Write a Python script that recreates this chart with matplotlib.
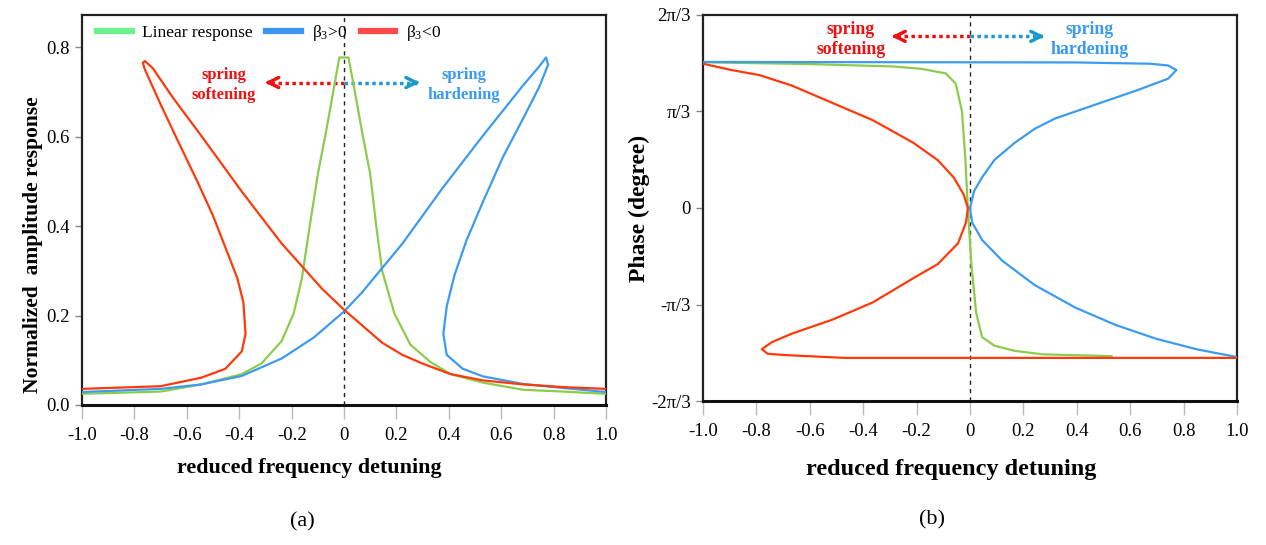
import matplotlib
matplotlib.use("Agg")
import matplotlib.pyplot as plt
from matplotlib.lines import Line2D

# ---------------- data: panel (a) amplitude ----------------
lin_amp_x = [-1.0, -0.7, -0.545, -0.39, -0.315, -0.238, -0.192, -0.161, -0.131, -0.10, -0.069, -0.038, -0.018,
             0.017, 0.038, 0.069, 0.10, 0.123, 0.146, 0.192, 0.253, 0.33, 0.407, 0.53, 0.684, 0.837, 1.0]
lin_amp_y = [0.025, 0.030, 0.046, 0.069, 0.093, 0.143, 0.205, 0.283, 0.40, 0.516, 0.61, 0.711, 0.777,
             0.777, 0.711, 0.61, 0.516, 0.40, 0.299, 0.205, 0.135, 0.096, 0.069, 0.050, 0.034, 0.030, 0.025]

hard_amp_x = [-1.0, -0.7, -0.545, -0.39, -0.238, -0.115, -0.038, 0.0, 0.069, 0.223, 0.376, 0.53, 0.684, 0.745,
              0.771, 0.779, 0.745, 0.684, 0.607, 0.53, 0.468, 0.422, 0.392, 0.379, 0.392, 0.453, 0.53, 0.684,
              0.837, 1.0]
hard_amp_y = [0.029, 0.036, 0.046, 0.065, 0.104, 0.151, 0.19, 0.209, 0.252, 0.361, 0.485, 0.602, 0.715, 0.757,
              0.777, 0.761, 0.711, 0.641, 0.555, 0.454, 0.369, 0.291, 0.221, 0.159, 0.112, 0.081, 0.064, 0.047,
              0.038, 0.029]

soft_amp_x = [-1.0, -0.7, -0.545, -0.453, -0.39, -0.376, -0.384, -0.407, -0.438, -0.50, -0.56, -0.637, -0.70,
              -0.76, -0.768, -0.76, -0.73, -0.653, -0.545, -0.39, -0.238, -0.084, 0.0, 0.069, 0.146, 0.223, 0.30,
              0.407, 0.53, 0.684, 0.837, 1.0]
soft_amp_y = [0.036, 0.042, 0.061, 0.081, 0.12, 0.159, 0.229, 0.283, 0.33, 0.423, 0.50, 0.594, 0.672,
              0.75, 0.765, 0.769, 0.753, 0.687, 0.602, 0.477, 0.361, 0.26, 0.213, 0.178, 0.139, 0.112, 0.0925,
              0.069, 0.055, 0.046, 0.040, 0.036]

# ---------------- data: panel (b) phase (degrees) ----------------
lin_ph_x = [-1.0, -0.606, -0.288, -0.182, -0.091, -0.053, -0.03, -0.018, -0.008, 0.005, 0.023, 0.045, 0.091,
            0.167, 0.273, 0.53]
lin_ph_y = [90.6, 89.5, 88.0, 86.5, 83.7, 77.2, 60.0, 31.9, 0.0, -34.9, -65.1, -80.2, -85.6, -88.8, -91.0, -92.1]

hard_ph_x = [-1.0, 0.394, 0.674, 0.742, 0.773, 0.742, 0.621, 0.47, 0.318, 0.242, 0.167, 0.091, 0.045, 0.015,
             0.0, 0.008, 0.045, 0.121, 0.242, 0.394, 0.545, 0.697, 0.848, 1.0]
hard_ph_y = [90.8, 90.5, 89.7, 88.6, 85.8, 80.4, 72.9, 64.3, 55.6, 49.2, 40.5, 29.8, 19.0, 10.4,
             0.0, -9.0, -19.8, -32.8, -47.9, -61.9, -72.7, -81.3, -87.8, -92.7]

soft_ph_x = [-1.0, -0.894, -0.788, -0.667, -0.515, -0.364, -0.212, -0.121, -0.061, -0.023, -0.008, -0.015,
             -0.045, -0.121, -0.212, -0.364, -0.515, -0.667, -0.742, -0.78, -0.758, -0.697, -0.47, 1.0]
soft_ph_y = [89.7, 85.8, 82.6, 76.1, 65.3, 54.6, 40.5, 29.8, 19.0, 8.2, 0.0, -9.0,
             -22.0, -34.9, -43.6, -58.7, -69.4, -78.1, -83.4, -87.8, -90.6, -91.4, -93.2, -93.2]

x_ticks = [-1.0, -0.8, -0.6, -0.4, -0.2, 0.0, 0.2, 0.4, 0.6, 0.8, 1.0]
x_ticklabels = ["-1.0", "-0.8", "-0.6", "-0.4", "-0.2", "0", "0.2", "0.4", "0.6", "0.8", "1.0"]
amp_ticks = [0.0, 0.2, 0.4, 0.6, 0.8]
amp_ticklabels = ["0.0", "0.2", "0.4", "0.6", "0.8"]
ph_ticks = [-120, -60, 0, 60, 120]
ph_ticklabels = ["-2\u03c0/3", "-\u03c0/3", "0", "\u03c0/3", "2\u03c0/3"]
legend_labels = ["Linear response", "\u03b2$_3$>0", "\u03b2$_3$<0"]

# ---------------- style ----------------
plt.rcParams['font.family'] = ['Liberation Serif', 'DejaVu Serif']
plt.rcParams['mathtext.fontset'] = 'custom'
plt.rcParams['mathtext.rm'] = 'Liberation Serif'
plt.rcParams['mathtext.it'] = 'Liberation Serif:italic'

C_GREEN = "#8ccc4c"
C_BLUE = "#3d9bef"
C_RED = "#ff3a0a"
L_GREEN = "#6ef08c"
L_BLUE = "#3a96f2"
L_RED = "#ff4a4a"
T_RED = "#ee1111"
T_BLUE = "#3a9af0"
A_BLUE = "#1a9ac8"

fig = plt.figure(figsize=(12.66, 5.45), dpi=100)
ax1 = fig.add_axes([0.0648, 0.2569, 0.4139, 0.7156])
ax2 = fig.add_axes([0.5553, 0.2642, 0.4218, 0.7083])


def style_axes(ax, xlabel_size, xlabel_x, xlabel_y):
    for s in ['top', 'right', 'left']:
        ax.spines[s].set_linewidth(1.6)
        ax.spines[s].set_color('#222222')
    ax.spines['bottom'].set_linewidth(2.2)
    ax.spines['bottom'].set_color('#111111')
    ax.tick_params(axis='x', direction='out', length=10, width=1, color='#bbbbbb',
                   labelsize=13.5, pad=6)
    ax.tick_params(axis='y', direction='out', length=5, width=1, color='#888888',
                   labelsize=13.5, pad=4)
    ax.set_xlim(-1.0, 1.0)
    ax.set_xticks(x_ticks)
    ax.set_xticklabels(x_ticklabels)
    ax.set_xlabel("reduced frequency detuning", fontsize=xlabel_size, fontweight='bold')
    ax.xaxis.set_label_coords(xlabel_x, xlabel_y)


# ---------- panel (a) ----------
ax1.plot(lin_amp_x, lin_amp_y, color=C_GREEN, lw=1.6, zorder=3)
ax1.plot(hard_amp_x, hard_amp_y, color=C_BLUE, lw=1.6, zorder=4)
ax1.plot(soft_amp_x, soft_amp_y, color=C_RED, lw=1.6, zorder=5)
ax1.axvline(0, color='#222222', lw=1.0, ls=(0, (3, 3)), zorder=2)
ax1.set_ylim(0, 0.872)
ax1.set_yticks(amp_ticks)
ax1.set_yticklabels(amp_ticklabels)
style_axes(ax1, 15.8, 0.433, -0.135)
ax1.set_ylabel("Normalized  amplitude response", fontsize=15.5, fontweight='bold')
ax1.yaxis.set_label_coords(-0.075, 0.41)

handles = [Line2D([], [], color=L_GREEN, lw=4.5),
           Line2D([], [], color=L_BLUE, lw=4.5),
           Line2D([], [], color=L_RED, lw=4.5)]
ax1.legend(handles, legend_labels, loc='upper left', ncol=3, frameon=False, fontsize=12.5,
           handlelength=2.0, handletextpad=0.6, columnspacing=0.8,
           bbox_to_anchor=(0.005, 1.01), borderaxespad=0.3)

ax1.text(-0.458, 0.716, "spring\nsoftening", color=T_RED, fontsize=12, fontweight='bold',
         ha='center', va='center', linespacing=1.3)
ax1.text(0.458, 0.716, "spring\nhardening", color=T_BLUE, fontsize=12, fontweight='bold',
         ha='center', va='center', linespacing=1.3)
y_arr = 0.721
ax1.plot([0, -0.29], [y_arr, y_arr], color=T_RED, lw=2.5, ls=(0, (1, 1)))
ax1.plot([0, 0.28], [y_arr, y_arr], color=A_BLUE, lw=2.5, ls=(0, (1, 1)))
ax1.annotate('', xy=(-0.313, y_arr), xytext=(-0.27, y_arr),
             arrowprops=dict(arrowstyle='->', lw=2.5, color=T_RED, mutation_scale=18))
ax1.annotate('', xy=(0.30, y_arr), xytext=(0.26, y_arr),
             arrowprops=dict(arrowstyle='->', lw=2.5, color=A_BLUE, mutation_scale=18))

# ---------- panel (b) ----------
ax2.plot(lin_ph_x, lin_ph_y, color=C_GREEN, lw=1.6, zorder=3)
ax2.plot(hard_ph_x, hard_ph_y, color=C_BLUE, lw=1.6, zorder=4)
ax2.plot(soft_ph_x, soft_ph_y, color=C_RED, lw=1.6, zorder=5)
ax2.axvline(0, color='#222222', lw=1.0, ls=(0, (3, 3)), zorder=2)
ax2.set_ylim(-120, 120)
ax2.set_yticks(ph_ticks)
ax2.set_yticklabels(ph_ticklabels)
style_axes(ax2, 17.5, 0.464, -0.15)
ax2.set_ylabel("Phase (degree)", fontsize=17, fontweight='bold')
ax2.yaxis.set_label_coords(-0.1, 0.5)

ax2.text(-0.446, 104.8, "spring\nsoftening", color=T_RED, fontsize=12.8, fontweight='bold',
         ha='center', va='center', linespacing=1.2)
ax2.text(0.449, 104.8, "spring\nhardening", color=T_BLUE, fontsize=12.8, fontweight='bold',
         ha='center', va='center', linespacing=1.2)
y_arr2 = 106.7
ax2.plot([0, -0.285], [y_arr2, y_arr2], color=T_RED, lw=2.5, ls=(0, (1, 1)))
ax2.plot([0, 0.27], [y_arr2, y_arr2], color=A_BLUE, lw=2.5, ls=(0, (1, 1)))
ax2.annotate('', xy=(-0.305, y_arr2), xytext=(-0.265, y_arr2),
             arrowprops=dict(arrowstyle='->', lw=2.5, color=T_RED, mutation_scale=18))
ax2.annotate('', xy=(0.29, y_arr2), xytext=(0.25, y_arr2),
             arrowprops=dict(arrowstyle='->', lw=2.5, color=A_BLUE, mutation_scale=18))

fig.text(302 / 1266, 1 - 522 / 545, "(a)", fontsize=16, ha='center', va='center')
fig.text(932 / 1266, 1 - 520 / 545, "(b)", fontsize=16, ha='center', va='center')

fig.savefig("out.png", dpi=100)
